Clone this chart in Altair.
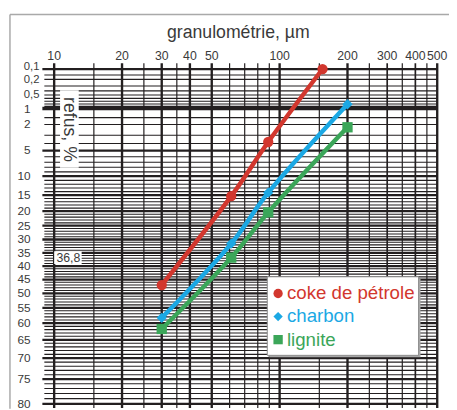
import math
import altair as alt
import pandas as pd

# ---------------- data ----------------
series_names = ["coke de pétrole", "charbon", "lignite"]
series_colors = ["#d2372e", "#1ba8e4", "#3ba659"]
series_shapes = ["circle", "diamond", "square"]

size_coke = [30, 61, 89, 155]
refus_coke = [47.0, 15.3, 3.8, 0.1]
size_charbon = [30, 61, 89, 200]
refus_charbon = [58.3, 31.5, 14.3, 0.81]
size_lignite = [30, 61, 89, 200]
refus_lignite = [61.8, 36.8, 20.4, 2.23]

x_tick_labels = [10, 20, 30, 40, 50, 100, 200, 300, 400, 500]
x_grid_major = [10, 20, 30, 40, 50, 100, 200, 500]
x_grid_medium = [300, 400]
x_grid_minor = [15, 25, 35, 60, 70, 80, 90, 150, 250, 350, 450]

y_tick_labels = [0.1, 0.2, 0.5, 1, 2, 5, 10, 15, 20, 25, 30, 35, 40,
                 45, 50, 55, 60, 65, 70, 75, 80]
y_grid_heavy = [1]
y_grid_major = [0.1, 5, 10, 15, 20, 25, 30, 35, 40, 45, 50, 55, 60, 65, 70, 75, 80]
y_grid_minor = [0.15, 0.2, 0.3, 0.4, 0.5, 0.6, 0.7, 0.8, 0.9, 1.5, 2, 3, 4] + \
    [v for v in range(6, 80) if v % 5]

mark_value = [36.8]
mark_label = ["36,8"]

x_title = "granulométrie, µm"
y_title = "refus, %"

FONT = "Liberation Sans"
GRID = "#231f20"
TXT = "#3a3a3a"

# ---------------- tables ----------------
series_df = pd.concat([
    pd.DataFrame({"size": size_coke, "R": refus_coke, "name": series_names[0]}),
    pd.DataFrame({"size": size_charbon, "R": refus_charbon, "name": series_names[1]}),
    pd.DataFrame({"size": size_lignite, "R": refus_lignite, "name": series_names[2]}),
])


def rr(r):
    # Rosin-Rammler ordinate
    return math.log(math.log(100.0 / r))


def fr(r):
    return str(r).replace(".", ",") if r < 1 else str(int(r))


W, H = 390, 341
x_scale = alt.Scale(type="log", domain=[10, 500], nice=False)
y_scale = alt.Scale(type="linear", domain=[rr(80), rr(0.1)], nice=False, zero=False)
VEXPR = "log(log(100/datum.R))"
X = lambda f: alt.X(f, scale=x_scale, axis=None)
Y = lambda f: alt.Y(f, scale=y_scale, axis=None)


def hgrid(values, width, x0):
    df = pd.DataFrame({"R": values})
    return alt.Chart(df).transform_calculate(v=VEXPR).mark_rule(
        color=GRID, strokeWidth=width).encode(
        y=Y("v:Q"), x=alt.value(x0), x2=alt.value(W))


def vgrid(values, width):
    df = pd.DataFrame({"s": values})
    return alt.Chart(df).mark_rule(color=GRID, strokeWidth=width).encode(
        x=X("s:Q"), y=alt.value(-6), y2=alt.value(H + 4))


one = pd.DataFrame({"k": [0]})
layers = [
    # outer frame (left and top edges)
    alt.Chart(one).mark_rule(color="#a9a9a9", strokeWidth=1.5).encode(
        x=alt.value(-45), y=alt.value(-55.5), y2=alt.value(H + 5)),
    alt.Chart(one).mark_rule(color="#a9a9a9", strokeWidth=1.5).encode(
        y=alt.value(-55.5), x=alt.value(-45), x2=alt.value(W + 14)),
    hgrid(y_grid_minor, 1.1, -10),
    hgrid(y_grid_major, 2.3, -12),
    hgrid(y_grid_heavy, 3.6, -12),
    vgrid(x_grid_minor, 1.2),
    vgrid(x_grid_medium, 1.7),
    vgrid(x_grid_major, 2.4),
]

# tick labels
xt = pd.DataFrame({"t": x_tick_labels, "lab": [str(t) for t in x_tick_labels]})
layers.append(alt.Chart(xt).mark_text(
    font=FONT, fontSize=12.5, color=TXT, align="center", baseline="alphabetic").encode(
    x=X("t:Q"), y=alt.value(-9.5), text="lab:N"))
yt = pd.DataFrame({"R": y_tick_labels, "lab": [fr(r) for r in y_tick_labels]})
layers.append(alt.Chart(yt).transform_filter("datum.R >= 1").transform_calculate(v=VEXPR).mark_text(
    font=FONT, fontSize=12, color=TXT, align="right", baseline="middle").encode(
    x=alt.value(-24), y=Y("v:Q"), text="lab:N"))
for test, shift in [("datum.R < 0.15", -1.8), ("datum.R > 0.15 && datum.R < 0.3", 1.2),
                    ("datum.R > 0.3 && datum.R < 1", 0)]:
    layers.append(alt.Chart(yt).transform_filter(test).transform_calculate(v=VEXPR).mark_text(
        font=FONT, fontSize=11.5, color=TXT, align="center", baseline="middle", dy=shift).encode(
        x=alt.value(-23), y=Y("v:Q"), text="lab:N"))

# titles
layers.append(alt.Chart(one).mark_text(
    font=FONT, fontSize=18, color=TXT, align="center", baseline="alphabetic").encode(
    x=alt.value(187.5), y=alt.value(-31.5), text=alt.value(x_title)))
layers.append(alt.Chart(one).mark_rect(color="white").encode(
    x=alt.value(6), x2=alt.value(25), y=alt.value(21.5), y2=alt.value(100.5)))
layers.append(alt.Chart(one).mark_text(
    angle=90, font=FONT, fontSize=18, color=TXT, align="center", baseline="middle").encode(
    x=alt.value(15.5), y=alt.value(61.5), text=alt.value(y_title)))

# 36,8 marker label
mk = pd.DataFrame({"R": mark_value, "lab": mark_label})
layers.append(alt.Chart(one).mark_rect(color="white").encode(
    x=alt.value(0), x2=alt.value(28), y=alt.value(185.5), y2=alt.value(198.5)))
layers.append(alt.Chart(mk).transform_calculate(v=VEXPR).mark_text(
    font=FONT, fontSize=12.5, color=TXT, align="center", baseline="middle").encode(
    x=alt.value(14.5), y=Y("v:Q"), text="lab:N"))

color_scale = alt.Scale(domain=series_names, range=series_colors)
shape_scale = alt.Scale(domain=series_names, range=series_shapes)
C = alt.Color("name:N", scale=color_scale, legend=None)
S = alt.Shape("name:N", scale=shape_scale, legend=None)

# series
layers.append(alt.Chart(series_df).transform_calculate(v=VEXPR).mark_line(
    strokeWidth=4.5, interpolate="catmull-rom").encode(
    x=X("size:Q"), y=Y("v:Q"), color=C, detail="name:N"))
layers.append(alt.Chart(series_df).transform_calculate(v=VEXPR).mark_point(
    filled=True, size=110, opacity=1).encode(
    x=X("size:Q"), y=Y("v:Q"), color=C, shape=S))

# legend (box, shadow, symbols, labels)
layers.append(alt.Chart(one).mark_rect(color="#a8a8a8").encode(
    x=alt.value(219), x2=alt.value(373), y=alt.value(213.5), y2=alt.value(293.5)))
layers.append(alt.Chart(one).mark_rect(fill="white", stroke="#8c8c8c", strokeWidth=1).encode(
    x=alt.value(217), x2=alt.value(371), y=alt.value(211.5), y2=alt.value(291.5)))
leg = pd.DataFrame({"name": series_names})
leg_base = alt.Chart(leg).transform_window(i="row_number()").transform_calculate(
    ly="205 + 23.5 * datum.i")
layers.append(leg_base.mark_point(filled=True, size=90, opacity=1).encode(
    x=alt.value(228), y=alt.Y("ly:Q", scale=None), color=C, shape=S))
layers.append(leg_base.mark_text(font=FONT, fontSize=19, align="left", baseline="middle").encode(
    x=alt.value(237), y=alt.Y("ly:Q", scale=None), text="name:N", color=C))

chart = alt.layer(*layers).properties(
    width=W, height=H,
    background="white",
    autosize=alt.AutoSizeParams(type="none"),
    padding={"left": 47, "top": 58.5, "right": 12, "bottom": 2.5},
).configure_view(stroke=None)

chart.save("out.html", embed_options={"renderer": "svg", "actions": False})
